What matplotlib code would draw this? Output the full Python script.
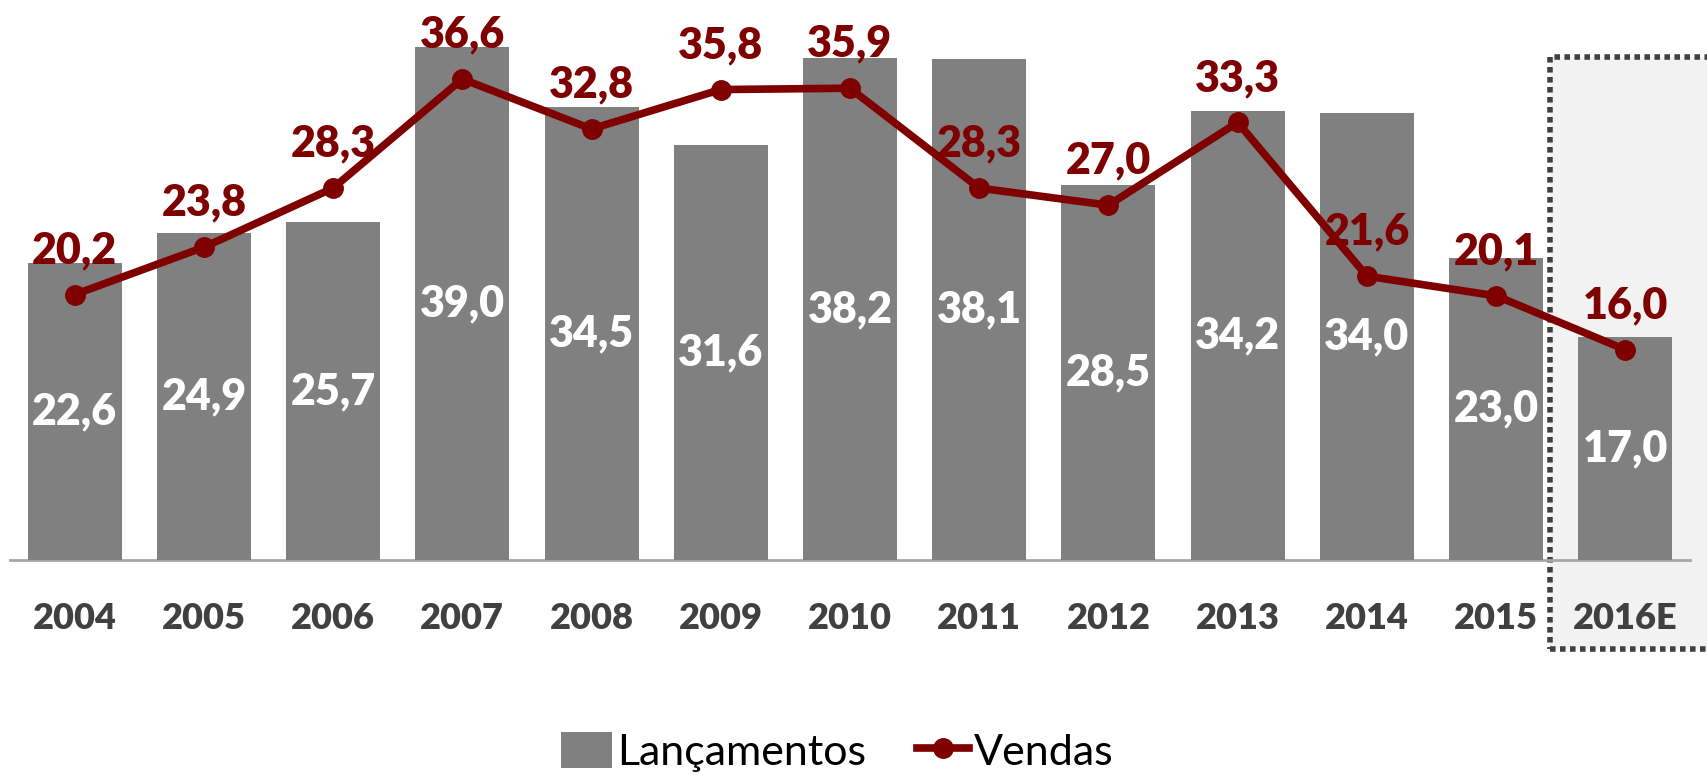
import matplotlib.pyplot as plt
from matplotlib.patches import Rectangle

years = ['2004', '2005', '2006', '2007', '2008', '2009', '2010',
         '2011', '2012', '2013', '2014', '2015', '2016E']
lancamentos = [22.6, 24.9, 25.7, 39.0, 34.5, 31.6, 38.2, 38.1, 28.5, 34.2, 34.0, 23.0, 17.0]
vendas = [20.2, 23.8, 28.3, 36.6, 32.8, 35.8, 35.9, 28.3, 27.0, 33.3, 21.6, 20.1, 16.0]

gray = '#808080'
red = '#7F0000'
dark = '#404040'

plt.rcParams['font.family'] = ['Lato', 'DejaVu Sans']

fig = plt.figure(figsize=(17.08, 7.76), dpi=100)
ax = fig.add_axes([0.00585, 0.2784, 0.9836, 0.7112])

x = list(range(len(years)))

# highlight box for the estimate year
ax.add_patch(Rectangle((11.42, -6.77), 2.0, 45.05, facecolor='#F2F2F2',
                       edgecolor=dark, linewidth=4, linestyle=(0, (1, 0.8)),
                       clip_on=False, zorder=0))

bars = ax.bar(x, lancamentos, width=0.727, color=gray, label='Lançamentos', zorder=2)
line, = ax.plot(x, vendas, color=red, linewidth=5.5, marker='o', markersize=14,
                label='Vendas', zorder=3)

for i, v in enumerate(lancamentos):
    ax.text(i, v / 2, f'{v:.1f}'.replace('.', ','), color='white',
            fontsize=31, fontweight='heavy', ha='center', va='center', zorder=4)

for i, v in enumerate(vendas):
    ax.annotate(f'{v:.1f}'.replace('.', ','), (i, v), xytext=(0, 32),
                textcoords='offset points', color=red, fontsize=31,
                fontweight='heavy', ha='center', va='center', zorder=5)

for i, y in enumerate(years):
    ax.annotate(y, (i, 0), xycoords=('data', 'axes fraction'), xytext=(0, -42),
                textcoords='offset points', color=dark, fontsize=26,
                fontweight='heavy', ha='center', va='center')

ax.set_xlim(-0.5, 12.5)
ax.set_ylim(0, 42)
ax.set_xticks([])
ax.set_yticks([])
for s in ['top', 'right', 'left']:
    ax.spines[s].set_visible(False)
ax.spines['bottom'].set_color('#A6A6A6')
ax.spines['bottom'].set_linewidth(2)
ax.spines['bottom'].set_zorder(1)
ax.patch.set_alpha(0)

fig.legend([bars, line], ['Lançamentos', 'Vendas'], loc='center',
           bbox_to_anchor=(0.49, 0.031), ncol=2, frameon=False,
           fontsize=31, handlelength=1.2, handleheight=0.9,
           handletextpad=0.1, columnspacing=1.2)

fig.savefig('out.png', dpi=100)
